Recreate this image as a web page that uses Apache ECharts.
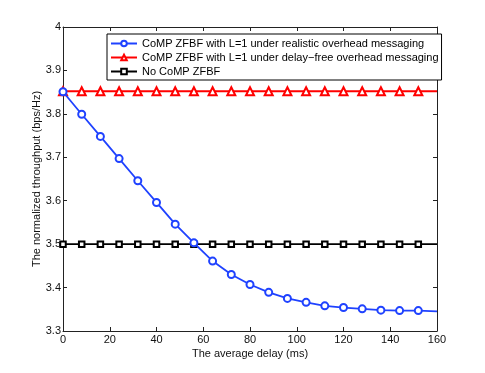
<!DOCTYPE html>
<html>
<head>
<meta charset="utf-8">
<script src="https://cdn.jsdelivr.net/npm/echarts@6/dist/echarts.min.js"></script>
<style>
html,body{margin:0;padding:0;background:#fff;}
#box{width:485px;height:373px;}
</style>
</head>
<body>
<div id="box"></div>
<script>
// x 轴: 平均时延 (ms)
var delays = [0, 8, 16, 24, 32, 40, 48, 56, 64, 72, 80, 88, 96, 104, 112, 120, 128, 136, 144, 152, 160];
// CoMP ZFBF, L=1, realistic overhead
var realistic = [3.851, 3.799, 3.748, 3.697, 3.646, 3.596, 3.546, 3.503, 3.461, 3.430, 3.407, 3.389, 3.375, 3.366, 3.358, 3.354, 3.351, 3.348, 3.347, 3.347, 3.345];
// CoMP ZFBF, L=1, delay-free overhead
var delayFree = [3.852, 3.852, 3.852, 3.852, 3.852, 3.852, 3.852, 3.852, 3.852, 3.852, 3.852, 3.852, 3.852, 3.852, 3.852, 3.852, 3.852, 3.852, 3.852, 3.852, 3.852];
// No CoMP
var noComp = [3.5, 3.5, 3.5, 3.5, 3.5, 3.5, 3.5, 3.5, 3.5, 3.5, 3.5, 3.5, 3.5, 3.5, 3.5, 3.5, 3.5, 3.5, 3.5, 3.5, 3.5];
var names = [
	'CoMP ZFBF with L=1 under realistic overhead messaging',
	'CoMP ZFBF with L=1 under delay\u2212free overhead messaging',
	'No CoMP ZFBF'
];
var xTicks = [0, 20, 40, 60, 80, 100, 120, 140, 160];
var yTicks = [3.3, 3.4, 3.5, 3.6, 3.7, 3.8, 3.9, 4];

var font = 'Liberation Sans, Arial, Helvetica, sans-serif';
var axisColor = '#222';

function pts(ys) {
	return delays.map(function (d, i) {
		// 最后一个点(160)不画标记
		return {value: [d, ys[i]], symbol: i === delays.length - 1 ? 'none' : undefined};
	});
}

function frameAxis(pos, isX, show) {
	return {
		type: 'value',
		position: pos,
		min: isX ? xTicks[0] : yTicks[0],
		max: isX ? xTicks[xTicks.length - 1] : yTicks[yTicks.length - 1],
		interval: isX ? 20 : 0.1,
		axisLine: {show: true, onZero: false, lineStyle: {color: axisColor, width: 1}},
		axisTick: {show: true, inside: true, length: 4, lineStyle: {color: axisColor}},
		splitLine: {show: false},
		axisLabel: {
			show: show,
			color: '#111',
			fontFamily: font,
			fontSize: 11,
			margin: isX ? 3 : 2,
			formatter: function (v) { return String(parseFloat(v.toFixed(1))); }
		}
	};
}

var xb = frameAxis('bottom', true, true);
xb.name = 'The average delay (ms)';
xb.nameLocation = 'middle';
xb.nameGap = 17;
xb.nameMoveOverlap = false;
xb.nameTextStyle = {fontFamily: font, fontSize: 11, color: '#111'};
var xt = frameAxis('top', true, false);

var yl = frameAxis('left', false, true);
yl.name = 'The normalized throughput (bps/Hz)';
yl.nameLocation = 'middle';
yl.nameGap = 21;
yl.nameMoveOverlap = false;
yl.nameTextStyle = {fontFamily: font, fontSize: 11, color: '#111'};
var yr = frameAxis('right', false, false);

var colors = ['#1f42ff', '#ff0000', '#000000'];
var symbols = ['emptyCircle', 'emptyTriangle', 'emptyRect'];
var sizes = [7, 8, 5.5];
var datas = [realistic, delayFree, noComp];

var series = datas.map(function (ys, i) {
	return {
		name: names[i],
		type: 'line',
		data: pts(ys),
		symbol: symbols[i],
		symbolSize: sizes[i],
		showAllSymbol: true,
		color: colors[i],
		lineStyle: {color: colors[i], width: 1.8},
		itemStyle: {color: colors[i], borderColor: colors[i], borderWidth: 1.5},
		emphasis: {disabled: true},
		animation: false,
		z: 3 - i
	};
});

var option = {
	animation: false,
	grid: {left: 63, right: 48, top: 27, bottom: 42, containLabel: false},
	xAxis: [xb, xt],
	yAxis: [yl, yr],
	legend: {
		orient: 'vertical',
		left: 107,
		top: 34,
		padding: [4, 3, 3, 3],
		itemGap: 3,
		itemWidth: 26,
		itemHeight: 7,
		backgroundColor: '#fff',
		borderColor: '#000',
		borderWidth: 1,
		borderRadius: 0,
		textStyle: {fontFamily: font, fontSize: 11, color: '#000'},
		data: names
	},
	series: series
};

var chart = echarts.init(document.getElementById('box'));
chart.setOption(option);
</script>
</body>
</html>
